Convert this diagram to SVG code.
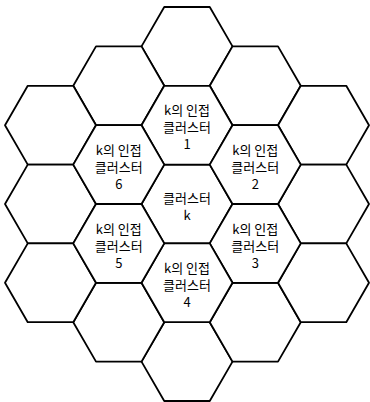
<svg xmlns="http://www.w3.org/2000/svg" xmlns:xlink="http://www.w3.org/1999/xlink" width="370" height="402" viewBox="0 0 370 402">
<style>
.hex{fill:#fff;stroke:#000;stroke-width:1.8;stroke-linejoin:round}
text{font-family:"Noto Sans CJK KR","Liberation Sans",sans-serif;font-size:13px;fill:#000;text-anchor:middle}
</style>
<defs>
<polygon id="hx" class="hex" points="-45.5,0 -22.75,-39.4 22.75,-39.4 45.5,0 22.75,39.4 -22.75,39.4"/>
</defs>
<rect width="370" height="402" fill="#fff"/>
<g id="hex-top"><use xlink:href="#hx" href="#hx" transform="translate(187,46.4)"/></g>
<g id="hex-bottom"><use xlink:href="#hx" href="#hx" transform="translate(187,361.6)"/></g>
<g id="hex-ul"><use xlink:href="#hx" href="#hx" transform="translate(118.75,85.8)"/></g>
<g id="hex-ll"><use xlink:href="#hx" href="#hx" transform="translate(118.75,322.2)"/></g>
<g id="hex-ur"><use xlink:href="#hx" href="#hx" transform="translate(255.25,85.8)"/></g>
<g id="hex-lr"><use xlink:href="#hx" href="#hx" transform="translate(255.25,322.2)"/></g>
<g id="hex-l1"><use xlink:href="#hx" href="#hx" transform="translate(50.5,125.2)"/></g>
<g id="hex-l2"><use xlink:href="#hx" href="#hx" transform="translate(50.5,204)"/></g>
<g id="hex-l3"><use xlink:href="#hx" href="#hx" transform="translate(50.5,282.8)"/></g>
<g id="hex-r1"><use xlink:href="#hx" href="#hx" transform="translate(323.5,125.2)"/></g>
<g id="hex-r2"><use xlink:href="#hx" href="#hx" transform="translate(323.5,204)"/></g>
<g id="hex-r3"><use xlink:href="#hx" href="#hx" transform="translate(323.5,282.8)"/></g>
<g id="cluster-k"><use xlink:href="#hx" href="#hx" transform="translate(187,204)"/>
<text x="187" y="203">클러스터</text><text x="187" y="220">k</text></g>
<g id="adj-1"><use xlink:href="#hx" href="#hx" transform="translate(187,125.2)"/>
<text x="187" y="115">k의 인접</text><text x="187" y="132">클러스터</text><text x="187" y="149">1</text></g>
<g id="adj-2"><use xlink:href="#hx" href="#hx" transform="translate(255.25,164.6)"/>
<text x="255.25" y="154.5">k의 인접</text><text x="255.25" y="171.5">클러스터</text><text x="255.25" y="188.5">2</text></g>
<g id="adj-3"><use xlink:href="#hx" href="#hx" transform="translate(255.25,243.4)"/>
<text x="255.25" y="233.5">k의 인접</text><text x="255.25" y="250.5">클러스터</text><text x="255.25" y="267.5">3</text></g>
<g id="adj-4"><use xlink:href="#hx" href="#hx" transform="translate(187,282.8)"/>
<text x="187" y="273">k의 인접</text><text x="187" y="290">클러스터</text><text x="187" y="307">4</text></g>
<g id="adj-5"><use xlink:href="#hx" href="#hx" transform="translate(118.75,243.4)"/>
<text x="118.75" y="233.5">k의 인접</text><text x="118.75" y="250.5">클러스터</text><text x="118.75" y="267.5">5</text></g>
<g id="adj-6"><use xlink:href="#hx" href="#hx" transform="translate(118.75,164.6)"/>
<text x="118.75" y="154.5">k의 인접</text><text x="118.75" y="171.5">클러스터</text><text x="118.75" y="188.5">6</text></g>
</svg>
